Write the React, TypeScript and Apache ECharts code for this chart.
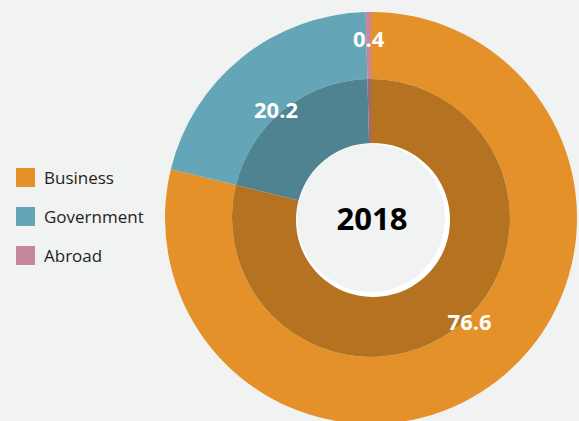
import React, { useEffect, useRef } from 'react';
import * as echarts from 'echarts';

const categories = ['Business', 'Government', 'Abroad'];
const values = [76.6, 20.2, 0.4];
const yearLabel = '2018';
const colors = ['#e5912a', '#64a6b8', '#c6869b'];

function darken(hex: string, f: number): string {
  const n = parseInt(hex.slice(1), 16);
  const r = Math.round(((n >> 16) & 255) * f);
  const g = Math.round(((n >> 8) & 255) * f);
  const b = Math.round((n & 255) * f);
  return `rgb(${r},${g},${b})`;
}

export default function App() {
  const ref = useRef<HTMLDivElement>(null);
  useEffect(() => {
    document.body.style.margin = '0';
    const chart = echarts.init(ref.current!, null, { renderer: 'svg' });
    const cx = 371;
    const cy = 218;
    const rOuter = 206;
    const rDark = 139;
    const rHole = 74;
    const font = '"Open Sans", "Noto Sans", sans-serif';
    const labelOffsets = [[9, -11], [-4, 4], [0, -5]];

    const outerData = categories.map((name, i) => ({
      name,
      value: values[i],
      itemStyle: { color: colors[i] },
      label: i === 2 ? { show: true, offset: labelOffsets[i] } : { show: false },
    }));
    const innerData = categories.map((name, i) => ({
      name,
      value: values[i],
      itemStyle: { color: darken(colors[i], 0.79) },
    }));
    const labelData = categories.map((name, i) => ({
      name,
      value: values[i],
      label: { show: i !== 2, offset: labelOffsets[i] },
    }));

    const commonLabel = {
      position: 'inside',
      color: '#ffffff',
      fontFamily: font,
      fontWeight: 'bold',
      fontSize: 22,
      formatter: (p: any) => String(p.value),
    };

    chart.setOption({
      animation: false,
      backgroundColor: '#f1f2f2',
      legend: {
        orient: 'vertical',
        left: 16,
        top: 168,
        padding: 0,
        icon: 'rect',
        itemWidth: 19,
        itemHeight: 19,
        itemGap: 20,
        selectedMode: false,
        textStyle: { fontFamily: font, fontSize: 17, color: '#231f20', padding: [0, 0, 0, 4] },
        data: categories.map((name, i) => ({ name, itemStyle: { color: colors[i] } })),
      },
      series: [
        {
          type: 'pie',
          center: [cx, cy],
          radius: [rDark, rOuter],
          startAngle: 90,
          clockwise: true,
          silent: true,
          labelLine: { show: false },
          label: commonLabel,
          emphasis: { disabled: true },
          itemStyle: { borderWidth: 0 },
          data: outerData,
        },
        {
          type: 'pie',
          center: [cx, cy],
          radius: [rHole - 10, rDark],
          startAngle: 90,
          clockwise: true,
          silent: true,
          label: { show: false },
          labelLine: { show: false },
          emphasis: { disabled: true },
          itemStyle: { borderWidth: 0 },
          data: innerData,
        },
        {
          type: 'pie',
          center: [cx, cy],
          radius: [0, 284],
          startAngle: 90,
          clockwise: true,
          silent: true,
          z: 5,
          labelLine: { show: false },
          label: commonLabel,
          emphasis: { disabled: true },
          itemStyle: { color: 'rgba(0,0,0,0)', borderWidth: 0 },
          data: labelData,
        },
      ],
      graphic: [
        {
          type: 'circle',
          z: 100,
          shape: { cx: cx + 2, cy: cy + 2, r: rHole + 3 },
          style: { fill: '#ffffff' },
        },
        {
          type: 'circle',
          z: 101,
          shape: { cx: cx, cy: cy, r: rHole },
          style: { fill: '#f1f2f2' },
        },
        {
          type: 'text',
          z: 102,
          x: cx + 1,
          y: cy,
          style: {
            text: yearLabel,
            fill: '#000000',
            font: `bold 31px ${font}`,
            textAlign: 'center',
            textVerticalAlign: 'middle',
          },
        },
      ],
    });
    return () => chart.dispose();
  }, []);
  return <div ref={ref} style={{ position: 'fixed', left: 0, top: 0, width: 579, height: 421 }} />;
}
